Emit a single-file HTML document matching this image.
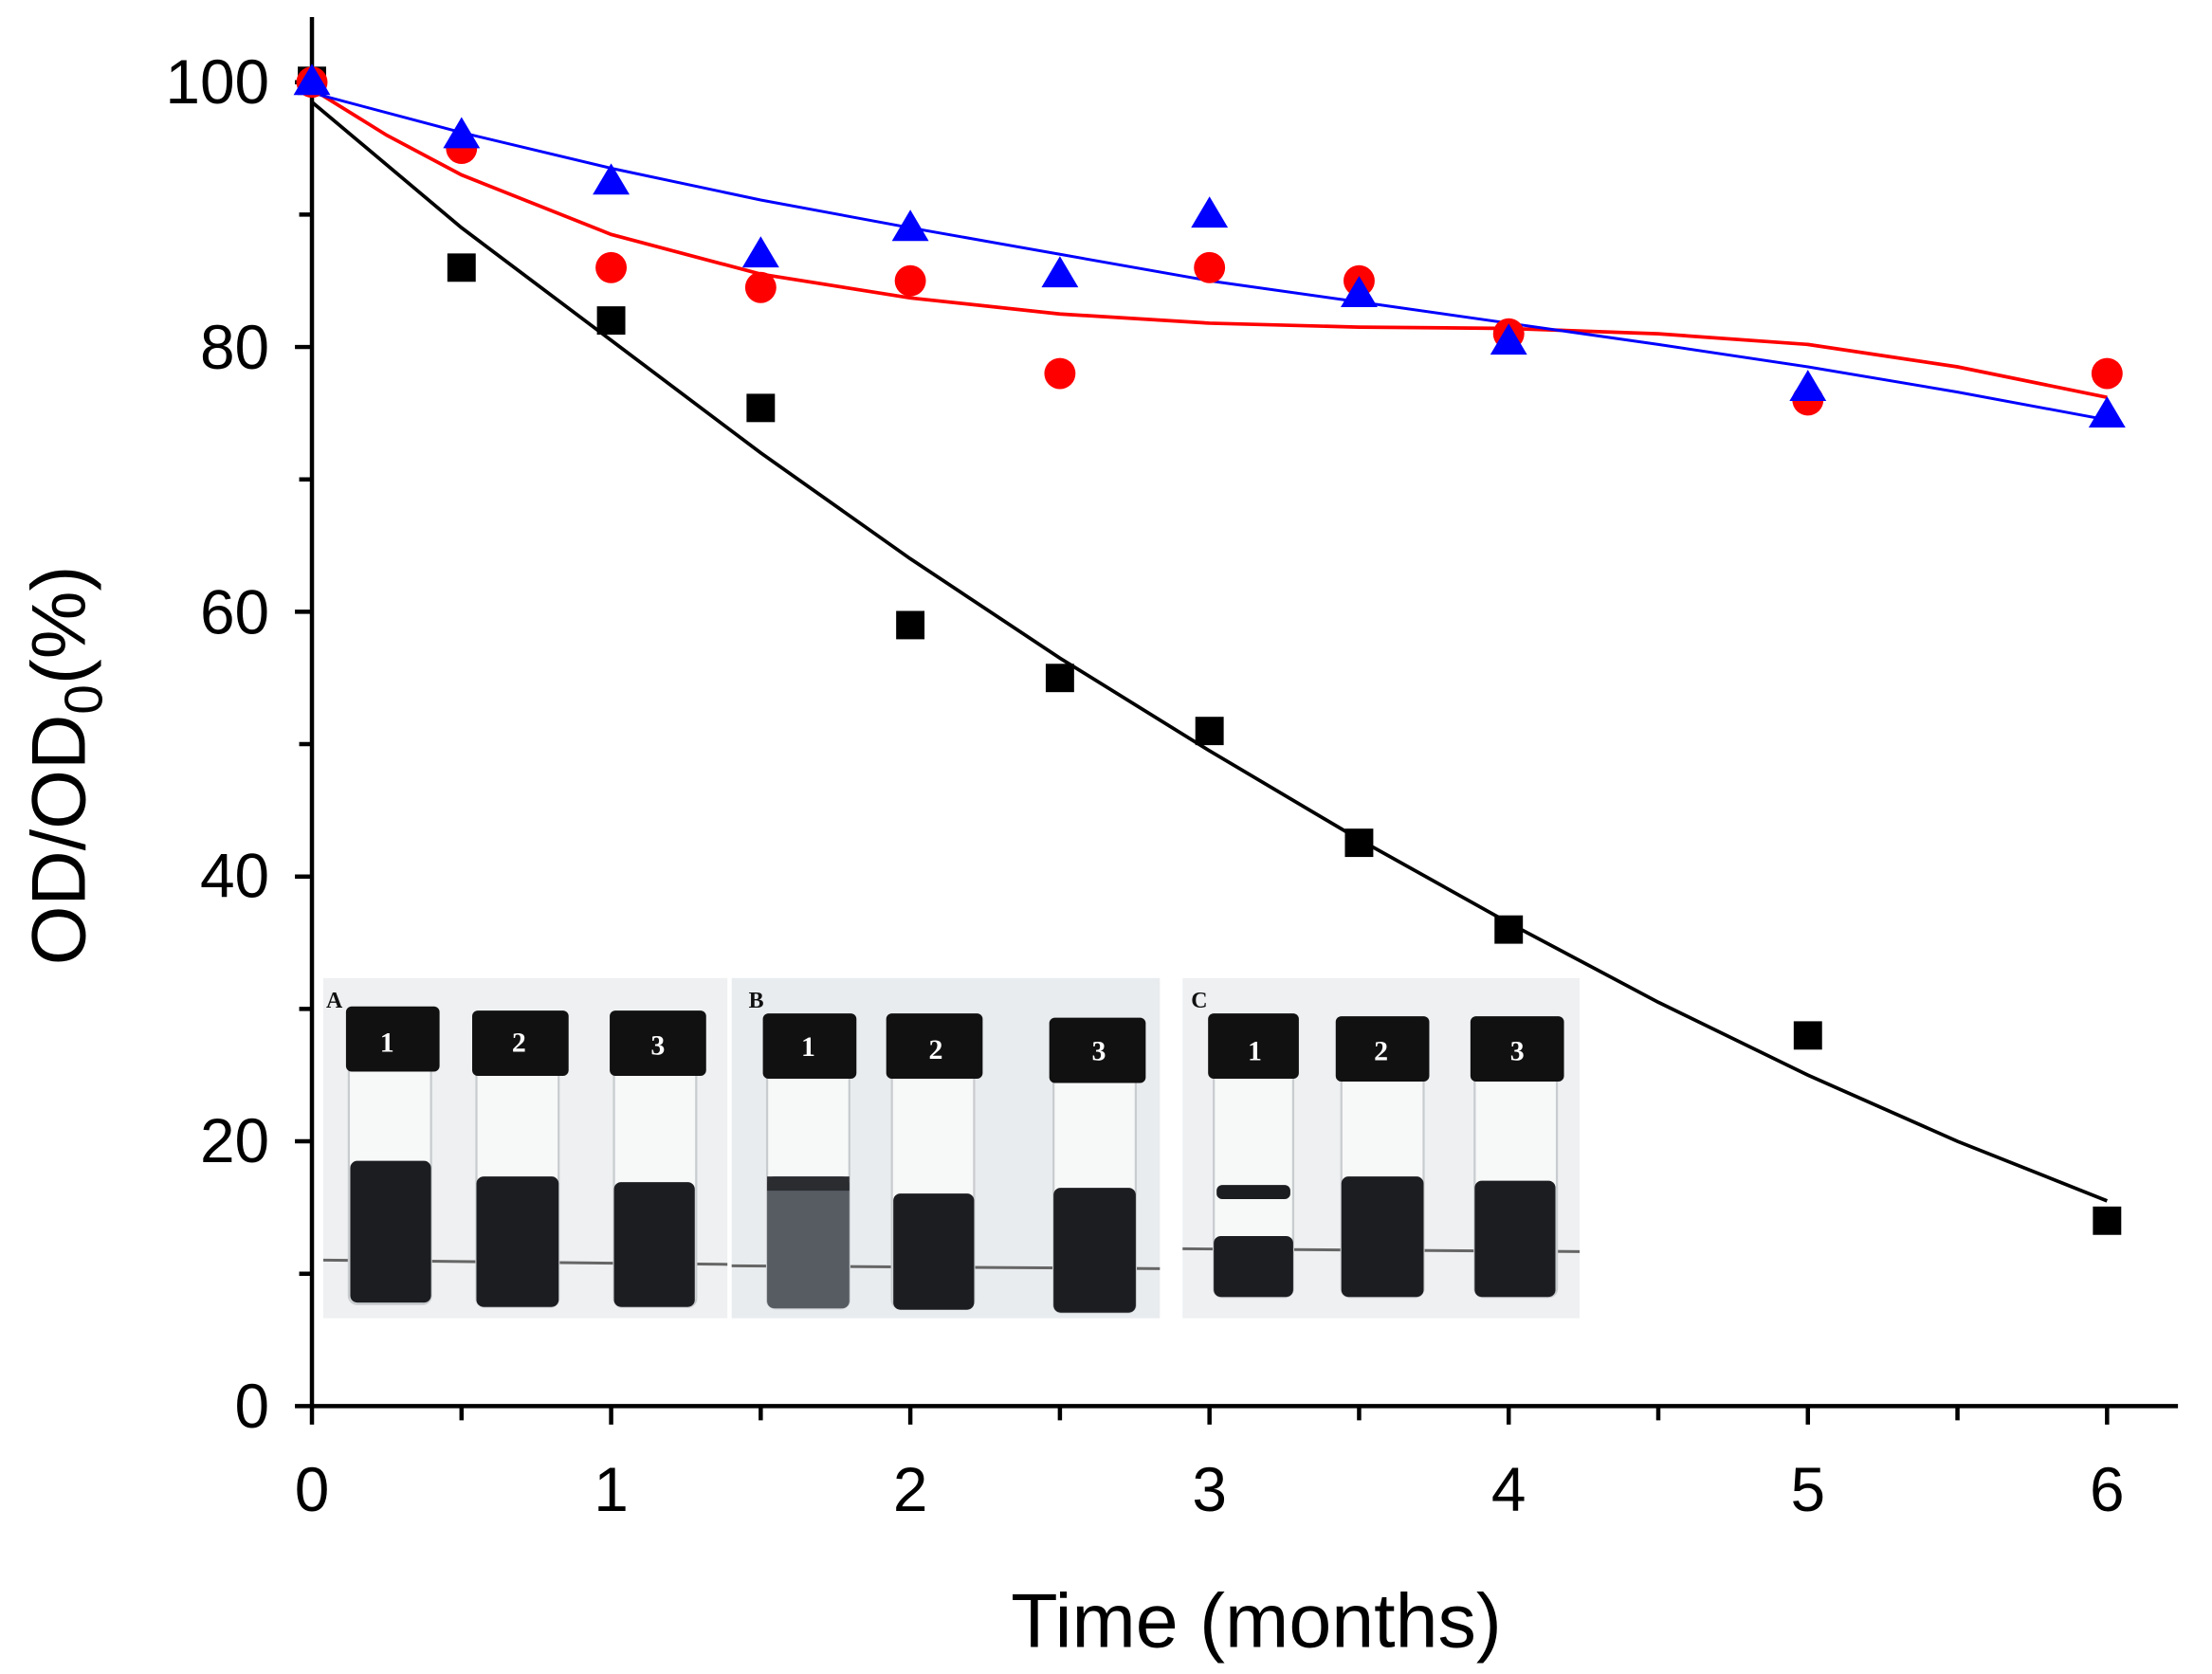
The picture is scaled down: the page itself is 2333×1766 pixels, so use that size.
<!DOCTYPE html>
<html><head><meta charset="utf-8"><style>html,body{margin:0;padding:0;background:#fff}svg{display:block}</style></head>
<body>
<svg width="2333" height="1766" viewBox="0 0 1560 1181" preserveAspectRatio="none" xmlns="http://www.w3.org/2000/svg" font-family="Liberation Sans, Arial, sans-serif">
<rect width="1560" height="1181" fill="#fff"/>
<!-- inset photos -->
<g>
<rect x="228" y="690" width="285" height="240" fill="#eef0f1"/>
<rect x="516" y="690" width="302" height="240" fill="#e9ecef"/>
<rect x="834" y="690" width="280" height="240" fill="#eef0f2"/>
<line x1="228" y1="889" x2="513" y2="892" stroke="#666" stroke-width="2"/>
<line x1="516" y1="893" x2="818" y2="895" stroke="#666" stroke-width="2"/>
<line x1="834" y1="881" x2="1114" y2="883" stroke="#666" stroke-width="2"/>
<g fill="#f7f8f8" stroke="#c9cccf" stroke-width="1.5">
<rect x="246" y="750" width="58" height="170" rx="6"/><rect x="336" y="752" width="58" height="170" rx="6"/><rect x="433" y="752" width="58" height="170" rx="6"/>
<rect x="541" y="755" width="58" height="168" rx="6"/><rect x="629" y="755" width="58" height="168" rx="6"/><rect x="743" y="758" width="58" height="168" rx="6"/>
<rect x="856" y="755" width="56" height="160" rx="6"/><rect x="946" y="755" width="58" height="160" rx="6"/><rect x="1040" y="755" width="58" height="160" rx="6"/>
</g>
<g fill="#1c1d20">
<rect x="247" y="819" width="57" height="100" rx="5"/><rect x="336" y="830" width="58" height="92" rx="5"/><rect x="433" y="834" width="57" height="88" rx="5"/>
<rect x="630" y="842" width="57" height="82" rx="5"/><rect x="743" y="838" width="58" height="88" rx="5"/>
<rect x="856" y="872" width="56" height="43" rx="5"/><rect x="858" y="836" width="52" height="10" rx="4"/><rect x="946" y="830" width="58" height="85" rx="5"/><rect x="1040" y="833" width="57" height="82" rx="5"/>
</g>
<rect x="541" y="830" width="58" height="93" rx="5" fill="#575c63"/>
<rect x="541" y="830" width="58" height="10" fill="#2a2c30"/>
<g fill="#111">
<rect x="244" y="710" width="66" height="46" rx="4"/><rect x="333" y="713" width="68" height="46" rx="4"/><rect x="430" y="713" width="68" height="46" rx="4"/>
<rect x="538" y="715" width="66" height="46" rx="4"/><rect x="625" y="715" width="68" height="46" rx="4"/><rect x="740" y="718" width="68" height="46" rx="4"/>
<rect x="852" y="715" width="64" height="46" rx="4"/><rect x="942" y="717" width="66" height="46" rx="4"/><rect x="1037" y="717" width="66" height="46" rx="4"/>
</g>
<g fill="#fff" font-family="Liberation Serif, serif" font-size="20" font-weight="bold" text-anchor="middle">
<text x="273" y="742">1</text><text x="366" y="742">2</text><text x="464" y="744">3</text>
<text x="570" y="745">1</text><text x="660" y="747">2</text><text x="775" y="748">3</text>
<text x="885" y="748">1</text><text x="974" y="748">2</text><text x="1070" y="748">3</text>
</g>
<g fill="#111" font-family="Liberation Serif, serif" font-size="16" font-weight="bold">
<text x="230" y="711">A</text><text x="528" y="711">B</text><text x="840" y="711">C</text>
</g>
</g>
<!-- axes -->
<g stroke="#000" stroke-width="3" fill="none">
<line x1="220" y1="12" x2="220" y2="993"/>
<line x1="219" y1="992" x2="1536" y2="992"/>
<path d="M220 992v13M325.5 992v10M431 992v13M536.5 992v10M642 992v13M747.5 992v10M853 992v13M958.5 992v10M1064 992v13M1169.5 992v10M1275 992v13M1380.5 992v10M1486 992v13"/>
<path d="M220 992h-12M220 898.6h-9M220 805.2h-12M220 711.8h-9M220 618.4h-12M220 525h-9M220 431.6h-12M220 338.2h-9M220 244.8h-12M220 151.4h-9M220 58h-12"/>
</g>
<g font-size="44" fill="#000" text-anchor="end">
<text x="190" y="1007">0</text><text x="190" y="820">20</text><text x="190" y="633">40</text><text x="190" y="447">60</text><text x="190" y="260">80</text><text x="190" y="73">100</text>
</g>
<g font-size="44" fill="#000" text-anchor="middle">
<text x="220" y="1066">0</text><text x="431" y="1066">1</text><text x="642" y="1066">2</text><text x="853" y="1066">3</text><text x="1064" y="1066">4</text><text x="1275" y="1066">5</text><text x="1486" y="1066">6</text>
</g>
<text x="886" y="1162" font-size="54" text-anchor="middle">Time (months)</text>
<text transform="translate(60,540) rotate(-90)" font-size="54" text-anchor="middle">OD/OD<tspan font-size="38" dy="12">0</tspan><tspan dy="-12">(%)</tspan></text>
<!-- fits -->
<polyline fill="none" stroke="#000" stroke-width="2.5" points="220,72 325.5,160.7 431,240.1 536.5,319.5 642,394.2 747.5,464.3 853,529.7 958.5,592.2 1064,651.1 1169.5,707.1 1275,758.5 1380.5,805.2 1486,847.2"/>
<polyline fill="none" stroke="#f00" stroke-width="2.5" points="220,62.7 272.75,95.4 325.5,123.4 431,165.4 536.5,193.4 642,210.2 747.5,221.5 853,228 958.5,230.8 1064,231.7 1169.5,235.5 1275,243 1380.5,258.8 1486,280.3"/>
<polyline fill="none" stroke="#00f" stroke-width="2" points="220,65.5 325.5,93.5 431,118.7 536.5,141.1 642,160.7 747.5,179.4 853,198.1 958.5,213 1064,228 1169.5,243 1275,258.8 1380.5,276.6 1486,296.2"/>
<!-- black squares -->
<g fill="#000">
<rect x="210" y="47" width="20" height="20"/>
<rect x="315.5" y="178.8" width="20" height="20"/><rect x="421" y="216.1" width="20" height="20"/><rect x="526.5" y="277.8" width="20" height="20"/>
<rect x="632" y="431" width="20" height="20"/><rect x="737.5" y="468.3" width="20" height="20"/><rect x="843" y="505.7" width="20" height="20"/>
<rect x="948.5" y="584.6" width="20" height="20"/><rect x="1054" y="645.8" width="20" height="20"/><rect x="1265" y="720.5" width="20" height="20"/><rect x="1476" y="851.2" width="20" height="20"/>
</g>
<g fill="#f00">
<circle cx="220" cy="58" r="11"/><circle cx="325.5" cy="104.7" r="11"/><circle cx="431" cy="188.8" r="11"/><circle cx="536.5" cy="202.8" r="11"/>
<circle cx="642" cy="198.1" r="11"/><circle cx="747.5" cy="263.5" r="11"/><circle cx="853" cy="188.8" r="11"/><circle cx="958.5" cy="198.1" r="11"/>
<circle cx="1064" cy="235.5" r="11"/><circle cx="1275" cy="282.2" r="11"/><circle cx="1486" cy="263.5" r="11"/>
</g>
<g fill="#00f">
<path d="M220 45l13 22h-26z"/><path d="M325.5 82.6l13 22h-26z"/><path d="M431 115.3l13 22h-26z"/><path d="M536.5 166.7l13 22h-26z"/>
<path d="M642 148l13 22h-26z"/><path d="M747.5 180.7l13 22h-26z"/><path d="M853 138.6l13 22h-26z"/><path d="M958.5 194.7l13 22h-26z"/>
<path d="M1064 228.2l13 22h-26z"/><path d="M1275 260.9l13 22h-26z"/><path d="M1486 279.6l13 22h-26z"/>
</g>
</svg>
</body></html>
